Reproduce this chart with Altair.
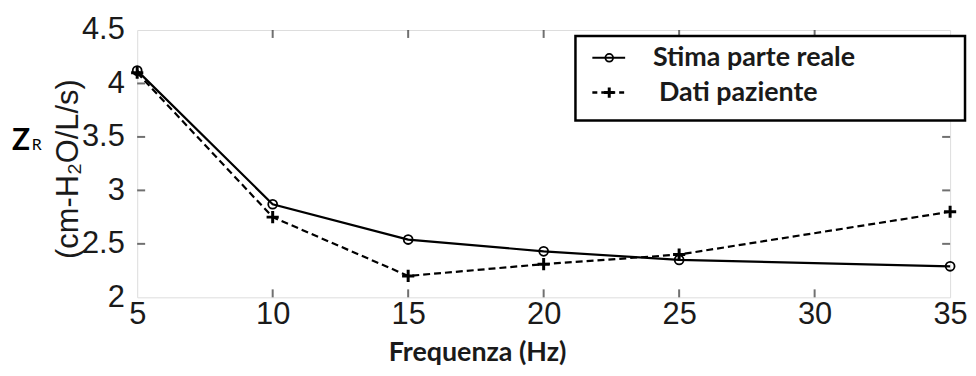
import altair as alt
import pandas as pd

# ---- data ----
freq = [5, 10, 15, 20, 25, 35]
stima = [4.12, 2.87, 2.54, 2.43, 2.35, 2.29]
dati = [4.10, 2.75, 2.20, 2.31, 2.40, 2.80]
series = ["Stima parte reale", "Dati paziente"]
x_ticks = [5, 10, 15, 20, 25, 30, 35]
y_ticks = [2, 2.5, 3, 3.5, 4, 4.5]
x_inner = [10, 15, 20, 25, 30]
y_inner = [2.5, 3, 3.5, 4]

W, H = 818, 269
AXF = "Liberation Sans"
TXF = "Lato"
INK = "#1a1a1a"

df_s = pd.DataFrame({"freq": freq, "val": stima})
df_d = pd.DataFrame({"freq": freq, "val": dati})
df_xt = pd.DataFrame({"freq": x_inner})
df_yt = pd.DataFrame({"val": y_inner})
one = pd.DataFrame({"k": [0]})

xs = alt.Scale(domain=[5, 35], nice=False, zero=False)
ys = alt.Scale(domain=[2, 4.5], nice=False, zero=False)

x_axis = alt.Axis(values=x_ticks, title="Frequenza (Hz)", grid=False, domain=False, ticks=False,
                  labelFont=AXF, labelFontSize=31, labelColor=INK, labelPadding=2,
                  labelFlush=False, labelOverlap=False,
                  titleFont=TXF, titleFontSize=27, titleFontWeight="bold", titleColor=INK,
                  titleX=342, titleY=56, titleAlign="center", titleBaseline="middle")
y_axis = alt.Axis(values=y_ticks, title="(cm-H₂O/L/s)", grid=False, domain=False, ticks=False,
                  labelFont=AXF, labelFontSize=31, labelColor=INK, labelPadding=13,
                  labelFlush=False, labelOverlap=False, labelExpr="'' + datum.value",
                  titleFont=AXF, titleFontSize=31, titleFontWeight="normal", titleColor=INK,
                  titleAngle=270, titleX=-69, titleY=H / 2 + 5, titleAlign="center",
                  titleBaseline="middle")

X = alt.X("freq:Q", scale=xs, axis=x_axis)
Y = alt.Y("val:Q", scale=ys, axis=y_axis)

PLUS = "M-1,0L1,0M0,-1L0,1"

line_s = alt.Chart(df_s).mark_line(color="black", strokeWidth=2.2).encode(x=X, y=Y)
line_d = alt.Chart(df_d).mark_line(color="black", strokeWidth=2.2, strokeDash=[7, 4]).encode(x=X, y=Y)
pt_s = alt.Chart(df_s).mark_point(shape="circle", filled=False, color="black", size=80,
                                  strokeWidth=1.8, opacity=1).encode(x=X, y=Y)
pt_d = alt.Chart(df_d).mark_point(shape=PLUS, filled=False, color="black", size=150,
                                  strokeWidth=3, opacity=1).encode(x=X, y=Y)

tick_style = dict(color="#333", thickness=2, size=8)
t_bot = alt.Chart(df_xt).mark_tick(orient="vertical", **tick_style).encode(x=X, y=alt.value(H - 4))
t_top = alt.Chart(df_xt).mark_tick(orient="vertical", **tick_style).encode(x=X, y=alt.value(4))
t_left = alt.Chart(df_yt).mark_tick(orient="horizontal", **tick_style).encode(y=Y, x=alt.value(4))
t_right = alt.Chart(df_yt).mark_tick(orient="horizontal", **tick_style).encode(y=Y, x=alt.value(W - 4))

# ---- legend box (layout) ----
LX0, LX1, LY0, LY1 = 441, 833, 6, 91
row_y = [28, 63]
leg_box = alt.Chart(one).mark_rect(fill="white", stroke="black", strokeWidth=2.5).encode(
    x=alt.value(LX0), x2=alt.value(LX1), y=alt.value(LY0), y2=alt.value(LY1))
leg_l1 = alt.Chart(one).mark_rule(color="black", strokeWidth=2).encode(
    x=alt.value(458), x2=alt.value(491), y=alt.value(row_y[0]))
leg_l2 = alt.Chart(one).mark_rule(color="black", strokeWidth=2.5, strokeDash=[5, 4]).encode(
    x=alt.value(458), x2=alt.value(491), y=alt.value(row_y[1]))
leg_p1 = alt.Chart(one).mark_point(shape="circle", filled=False, color="black", size=60,
                                   strokeWidth=1.8, opacity=1).encode(
    x=alt.value(475), y=alt.value(row_y[0]))
leg_p2 = alt.Chart(one).mark_point(shape=PLUS, filled=False, color="black", size=110,
                                   strokeWidth=3, opacity=1).encode(
    x=alt.value(475), y=alt.value(row_y[1]))
leg_t1 = alt.Chart(one).mark_text(text=series[0], font=TXF, fontSize=27, fontWeight="bold",
                                  color=INK, align="left", baseline="middle").encode(
    x=alt.value(519), y=alt.value(row_y[0]))
leg_t2 = alt.Chart(one).mark_text(text=series[1], font=TXF, fontSize=27, fontWeight="bold",
                                  color=INK, align="left", baseline="middle").encode(
    x=alt.value(525), y=alt.value(row_y[1]))

# ---- Z_R label ----
z_lab = alt.Chart(one).mark_text(text="Z", font=TXF, fontSize=30, fontWeight="bold",
                                 color="black", align="left", baseline="alphabetic").encode(
    x=alt.value(-126), y=alt.value(121))
r_lab = alt.Chart(one).mark_text(text="R", font=TXF, fontSize=16, fontWeight="normal",
                                 color="black", align="left", baseline="alphabetic").encode(
    x=alt.value(-106), y=alt.value(121))

chart = alt.layer(
    line_s, line_d, pt_s, pt_d, t_bot, t_top, t_left, t_right,
    leg_box, leg_l1, leg_l2, leg_p1, leg_p2, leg_t1, leg_t2, z_lab, r_lab
).properties(
    width=W, height=H, autosize="none",
    padding={"left": 130, "top": 21, "right": 18, "bottom": 70}
).configure_view(stroke="#333", strokeWidth=2).configure(background="white")

chart.save("out.html", embed_options={"renderer": "svg", "actions": False})
